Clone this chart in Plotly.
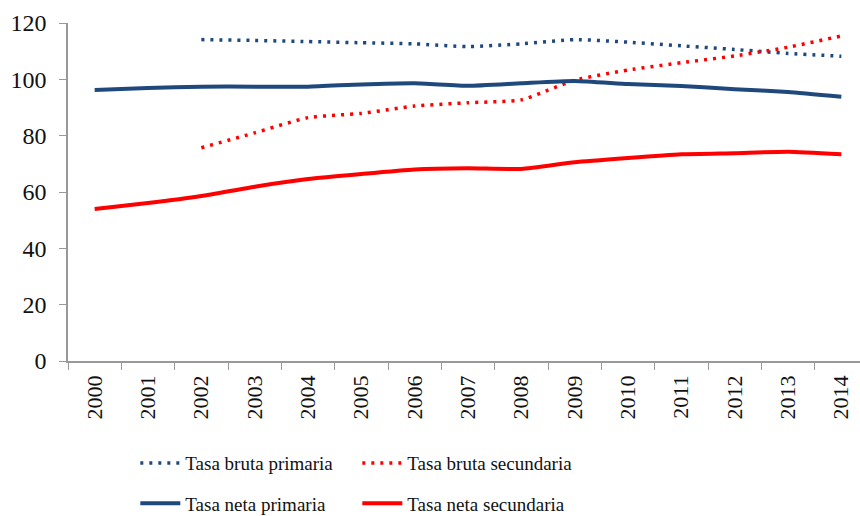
import plotly.graph_objects as go

years = [str(y) for y in range(2000, 2015)]

# tasas brutas start in 2002
bruta_primaria = [None, None, 114.1, 113.8, 113.4, 113.0, 112.6, 111.6, 112.6,
                  114.1, 113.2, 111.9, 110.6, 109.2, 108.2]
bruta_secundaria = [None, None, 75.7, 81.0, 86.4, 87.9, 90.5, 91.7, 92.7,
                    99.7, 103.3, 105.9, 108.3, 111.4, 115.4]
neta_primaria = [96.2, 96.9, 97.4, 97.4, 97.4, 98.2, 98.6, 97.7, 98.6,
                 99.4, 98.3, 97.6, 96.5, 95.5, 93.8]
neta_secundaria = [54.0, 56.1, 58.6, 61.9, 64.6, 66.4, 68.0, 68.4, 68.2,
                   70.6, 72.1, 73.4, 73.8, 74.3, 73.4]

y_ticks = [0, 20, 40, 60, 80, 100, 120]

BLUE = "#1F497D"
RED = "#FF0000"
FONT = "Liberation Serif"

fig = go.Figure()

fig.add_trace(go.Scatter(
    x=years, y=bruta_primaria, name="Tasa bruta primaria", mode="lines",
    line=dict(color=BLUE, width=3.5, dash="3px,6px", shape="spline", smoothing=0.5),
    legend="legend",
))
fig.add_trace(go.Scatter(
    x=years, y=bruta_secundaria, name="Tasa bruta secundaria", mode="lines",
    line=dict(color=RED, width=3.5, dash="3px,6px", shape="spline", smoothing=0.5),
    legend="legend",
))
fig.add_trace(go.Scatter(
    x=years, y=neta_primaria, name="Tasa neta primaria", mode="lines",
    line=dict(color=BLUE, width=4, shape="spline", smoothing=0.5),
    legend="legend2",
))
fig.add_trace(go.Scatter(
    x=years, y=neta_secundaria, name="Tasa neta secundaria", mode="lines",
    line=dict(color=RED, width=4, shape="spline", smoothing=0.5),
    legend="legend2",
))

legend_common = dict(
    orientation="h", xanchor="left", yanchor="top",
    entrywidth=167, entrywidthmode="pixels",
    font=dict(family=FONT, size=19, color="#111"),
    bgcolor="rgba(0,0,0,0)", itemwidth=40,
)

fig.update_layout(
    width=860, height=516,
    margin=dict(l=68, r=0, t=23, b=155, autoexpand=False),
    paper_bgcolor="white", plot_bgcolor="white",
    font=dict(family=FONT, color="#111"),
    xaxis=dict(
        type="category", range=[-0.5, 14.35], automargin=False,
        showgrid=False, showline=True, linecolor="#999", linewidth=1.5,
        ticks="outside", tickson="boundaries", ticklen=7, tickcolor="#999",
        tickangle=-90, tickfont=dict(family=FONT, size=22, color="#111"),
        ticklabelstandoff=4,
    ),
    yaxis=dict(
        range=[0, 120], tickvals=y_ticks, automargin=False,
        showgrid=False, showline=True, linecolor="#999", linewidth=1.5,
        ticks="outside", ticklen=7, tickcolor="#999",
        tickfont=dict(family=FONT, size=24, color="#111"),
        zeroline=False, ticklabelstandoff=8,
    ),
    legend=dict(x=0.085, y=-0.246, **legend_common),
    legend2=dict(x=0.085, y=-0.365, **legend_common),
)

# drop the default page margin so the 860x516 figure fills the window
fig.write_html(
    "out.html",
    config={"displayModeBar": False},
    post_script="document.body.style.margin='0';",
)
